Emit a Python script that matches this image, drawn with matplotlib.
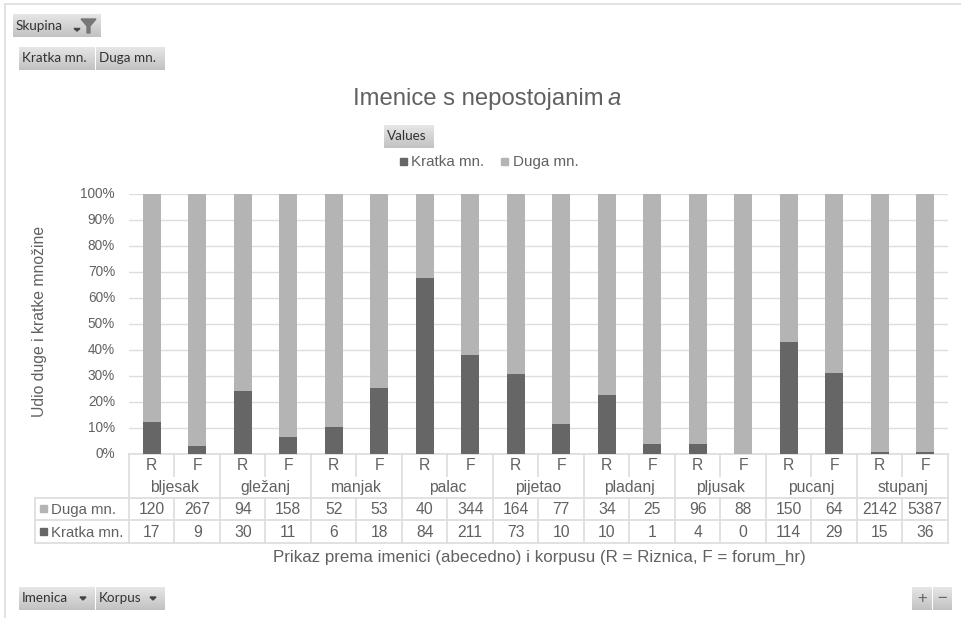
import numpy as np
import matplotlib.pyplot as plt
from matplotlib.patches import Rectangle
from matplotlib.transforms import Affine2D

WIDTH, HEIGHT = 962, 618

imenice = ["bljesak", "gležanj", "manjak", "palac", "pijetao",
           "pladanj", "pljusak", "pucanj", "stupanj"]
korpusi = ["R", "F"]
duga = [120, 267, 94, 158, 52, 53, 40, 344, 164, 77, 34, 25, 96, 88, 150, 64, 2142, 5387]
kratka = [17, 9, 30, 11, 6, 18, 84, 211, 73, 10, 10, 1, 4, 0, 114, 29, 15, 36]
y_ticks = [0, 10, 20, 30, 40, 50, 60, 70, 80, 90, 100]

DARK = "#666666"
LIGHT = "#b4b4b4"
TEXT = "#616161"
GRID = "#dedede"
SANS = "Liberation Sans"
BUTTON_FONT = "Lato"
TABLE_SIZE = 11.3

plt.rcParams["font.family"] = SANS


def label(pg, x, y, s, size, ha="left", **kw):
    # y is the text baseline, so descenders don't move a row up or down
    pg.text(x, y, s, ha=ha, va="baseline", color=TEXT, fontsize=size, **kw)


def button(pg, x0, y0, x1, y1, text=None, arrow=False):
    # pivot field buttons have a soft top-to-bottom grey gradient
    grad = np.linspace(0.90, 0.76, 32).reshape(-1, 1)
    pg.imshow(grad, cmap="gray", vmin=0, vmax=1, extent=(x0, x1, y1, y0),
              aspect="auto", zorder=2, interpolation="bilinear")
    if text:
        pg.text(x0 + 3, y0 + 15.5, text, family=BUTTON_FONT, fontsize=9.7,
                color="#333333", va="baseline", ha="left", zorder=3)
    if arrow:
        pg.fill([x1 - 15, x1 - 9, x1 - 12], [y0 + 10, y0 + 10, y0 + 13],
                color="#444444", zorder=3)


def draw_table(pg, x_left, col_w):
    n = len(duga)
    right = x_left + n * col_w
    top, mid, rows = 454, 476, [497.5, 520, 543]
    head_x = 35
    lw = 1.3

    pg.plot([x_left, right], [top, top], color=GRID, lw=lw, zorder=1)
    for y in rows:
        pg.plot([head_x, right], [y, y], color=GRID, lw=lw, zorder=1)
    pg.plot([head_x, head_x], [rows[0], rows[2]], color=GRID, lw=lw, zorder=1)

    for i in range(n + 1):
        x = x_left + i * col_w
        y_start = top if i % 2 == 0 else rows[0]
        pg.plot([x, x], [y_start, rows[2]], color=GRID, lw=lw, zorder=1)
        if i % 2 == 1:
            pg.plot([x, x], [top, mid], color=GRID, lw=lw, zorder=1)

    for i in range(n):
        x = x_left + (i + 0.5) * col_w
        label(pg, x, 470, korpusi[i % 2], TABLE_SIZE, ha="center")
        label(pg, x, 514, str(duga[i]), TABLE_SIZE, ha="center")
        label(pg, x, 537, str(kratka[i]), TABLE_SIZE, ha="center")
    for i, name in enumerate(imenice):
        label(pg, x_left + (2 * i + 1) * col_w, 492, name, TABLE_SIZE, ha="center")

    pg.add_patch(Rectangle((40, 505), 7, 7, color=LIGHT, zorder=3))
    label(pg, 51, 514, "Duga mn.", 10.8)
    pg.add_patch(Rectangle((40, 528), 7, 7, color=DARK, zorder=3))
    label(pg, 51, 537, "Kratka mn.", 10.8)


def main():
    fig = plt.figure(figsize=(WIDTH / 100, HEIGHT / 100), dpi=100)

    # page layer in pixel coordinates for the pivot chrome and data table
    pg = fig.add_axes([0, 0, 1, 1], zorder=0)
    pg.set_xlim(0, WIDTH)
    pg.set_ylim(HEIGHT, 0)
    pg.axis("off")

    pg.plot([5, WIDTH], [4, 4], color="#dddddd", lw=1.2)
    pg.plot([5.5, 5.5], [4, HEIGHT], color="#dddddd", lw=1.2)

    button(pg, 13, 14, 101, 37, "Skupina")
    pg.fill([74, 80, 77], [28.5, 28.5, 31], color="#444444", zorder=3)
    pg.fill([81, 96, 90, 90, 87, 87], [19, 19, 26, 33, 33, 26], color="#777777", zorder=3)
    button(pg, 19, 47, 95, 70, "Kratka mn.")
    button(pg, 96, 47, 165, 70, "Duga mn.")
    button(pg, 384, 125, 434, 148, "Values")
    button(pg, 19, 587, 95, 610, "Imenica", arrow=True)
    button(pg, 96, 587, 165, 610, "Korpus", arrow=True)
    button(pg, 912, 587, 932, 610)
    button(pg, 933, 587, 952, 610)
    pg.text(922, 598, "+", ha="center", va="center", color="#666666", fontsize=12, zorder=3)
    pg.text(942.5, 598, "\u2212", ha="center", va="center", color="#666666", fontsize=12, zorder=3)

    label(pg, 604, 105, "Imenice s nepostojanim", 17.2, ha="right")
    label(pg, 607, 105, "a", 17.2, style="italic")

    pg.add_patch(Rectangle((400, 158), 7, 7, color=DARK))
    label(pg, 411, 166, "Kratka mn.", 10.9)
    pg.add_patch(Rectangle((501, 158), 7, 7, color=LIGHT))
    label(pg, 513, 166, "Duga mn.", 10.9)

    label(pg, 539, 562, "Prikaz prema imenici (abecedno) i korpusu (R = Riznica, F = forum_hr)",
          12.2, ha="center")

    x_left, col_w = 129, 45.5
    draw_table(pg, x_left, col_w)

    # stacked 100% bars
    n = len(duga)
    ax = fig.add_axes([x_left / WIDTH, 1 - 454 / HEIGHT, n * col_w / WIDTH, 260 / HEIGHT], zorder=1)
    ax.patch.set_alpha(0)
    d = np.array(duga, dtype=float)
    k = np.array(kratka, dtype=float)
    udio_k = k / (d + k) * 100
    udio_d = d / (d + k) * 100
    x = np.arange(n)
    ax.bar(x, udio_k, width=0.4, color=DARK, zorder=3)
    ax.bar(x, udio_d, width=0.4, bottom=udio_k, color=LIGHT, zorder=3)
    ax.set_xlim(-0.5, n - 0.5)
    ax.set_ylim(0, 100)
    ax.set_yticks(y_ticks)
    ax.set_yticklabels([f"{t}%" for t in y_ticks], color=TEXT, fontsize=9.8, va="center_baseline")
    ax.set_xticks([])
    ax.tick_params(axis="y", length=0, pad=10)
    ax.grid(axis="y", color=GRID, lw=1.0, zorder=0)
    ax.set_axisbelow(True)
    for s in ax.spines.values():
        s.set_visible(False)
    # tick labels sit slightly above their gridlines
    for t in ax.get_yticklabels():
        t.set_transform(t.get_transform() + Affine2D().translate(0, 1.5))
    ax.set_ylabel("Udio duge i kratke množine", color=TEXT, fontsize=11.3)
    ax.yaxis.set_label_coords((47 - x_left) / (n * col_w), 0.51)

    fig.savefig("out.png", dpi=100)


if __name__ == "__main__":
    main()
